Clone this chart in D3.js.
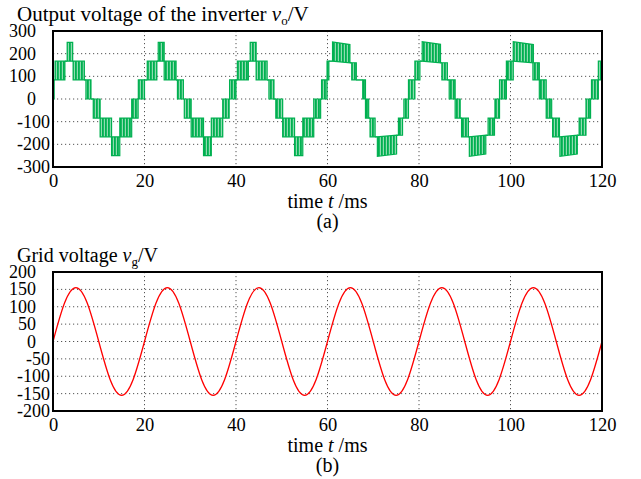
<!DOCTYPE html>
<html>
<head>
<meta charset="utf-8">
<script src="https://cdn.jsdelivr.net/npm/d3@7"></script>
<style>
  body { margin: 0; background: #fff; }
  text { font-family: "Liberation Serif", "Times New Roman", serif; fill: #000; }
</style>
</head>
<body>
<script>
// axis ticks
var timeTicks = [0, 20, 40, 60, 80, 100, 120];
var voTicks = [-300, -200, -100, 0, 100, 200, 300];
var vgTicks = [-200, -150, -100, -50, 0, 50, 100, 150, 200];

// grid voltage, read every 2.5 ms
var vgTime = [0, 2.5, 5, 7.5, 10, 12.5, 15, 17.5, 20, 22.5, 25, 27.5, 30, 32.5, 35, 37.5,
  40, 42.5, 45, 47.5, 50, 52.5, 55, 57.5, 60, 62.5, 65, 67.5, 70, 72.5, 75, 77.5,
  80, 82.5, 85, 87.5, 90, 92.5, 95, 97.5, 100, 102.5, 105, 107.5, 110, 112.5, 115, 117.5, 120];
var vgValues = [0, 110, 155, 110, 0, -110, -155, -110, 0, 110, 155, 110, 0, -110, -155, -110,
  0, 110, 155, 110, 0, -110, -155, -110, 0, 110, 155, 110, 0, -110, -155, -110,
  0, 110, 155, 110, 0, -110, -155, -110, 0, 110, 155, 110, 0, -110, -155, -110, 0];

// inverter output: PWM blocks [start ms, end ms, low V, high V, low V at end, high V at end]
var cycle1 = [
  [0, 0.25, 0, 84], [0.45, 2.6, 84, 167], [3.1, 4.3, 167, 250], [4.4, 6.85, 84, 167],
  [7.2, 8.3, 0, 84], [8.8, 10.3, -84, 0], [10.3, 12.8, -167, -84], [12.8, 14.6, -250, -167],
  [14.6, 17.2, -167, -84], [17.2, 18.6, -84, 0], [18.65, 20.0, 0, 84]
];
var cycle2 = [
  [20.6, 22.7, 84, 167], [23.0, 24.3, 167, 250], [24.3, 26.9, 84, 167], [27.2, 28.5, 0, 84],
  [28.7, 30.2, -84, 0], [30.2, 32.9, -167, -84], [32.9, 34.6, -250, -167], [34.6, 37.1, -167, -84],
  [37.1, 38.5, -84, 0], [38.6, 40.0, 0, 84]
];
var cycle3 = [
  [40.3, 42.7, 84, 167], [43.1, 44.4, 167, 250], [44.4, 46.8, 84, 167], [47.2, 48.3, 0, 84],
  [48.7, 50.2, -84, 0], [50.2, 52.8, -167, -84], [52.8, 54.6, -250, -167], [54.6, 57.0, -167, -84],
  [57.0, 58.5, -84, 0], [58.7, 59.9, 0, 84]
];
var cycle4 = [
  [59.9, 60.3, 84, 167], [61.1, 64.9, 167, 252, 160, 240], [65.3, 66.3, 84, 160], [67.7, 68.3, 0, 84],
  [68.3, 69.0, -84, 0], [69.3, 70.4, -167, -84], [70.9, 75.1, -253, -167, -243, -160],
  [75.5, 76.4, -160, -84], [76.7, 77.7, -84, 0], [77.7, 79.1, 0, 84]
];
var cycle5 = [
  [79.1, 80.2, 84, 167], [80.7, 84.7, 167, 253, 160, 241], [85.0, 86.2, 84, 160], [86.6, 87.9, 0, 84],
  [87.9, 89.0, -84, 0], [89.3, 90.8, -167, -84], [91.0, 94.6, -253, -167, -243, -160],
  [95.1, 96.5, -160, -84], [96.6, 97.6, -84, 0], [97.6, 99.1, 0, 84]
];
var cycle6 = [
  [99.1, 100.6, 84, 167], [100.6, 105.0, 167, 253, 160, 240], [104.9, 106.3, 84, 160], [106.3, 107.8, 0, 84],
  [107.8, 109.0, -84, 0], [109.2, 110.7, -167, -84], [110.8, 114.6, -253, -167, -243, -160],
  [115.0, 116.5, -160, -84], [116.5, 117.5, -84, 0], [117.7, 119.2, 0, 84], [119.2, 120, 84, 167]
];

var W = 641, H = 479;
var left = 53, right = 602;

var svg = d3.select("body").append("svg")
  .attr("width", W)
  .attr("height", H);

var defs = svg.append("defs");
var pat = defs.append("pattern")
  .attr("id", "pwm")
  .attr("patternUnits", "userSpaceOnUse")
  .attr("width", 3)
  .attr("height", 10);
pat.append("rect").attr("width", 3).attr("height", 10).attr("fill", "#8fdcb0");
pat.append("rect").attr("width", 1.8).attr("height", 10).attr("fill", "#00b050");

var x = d3.scaleLinear().domain([0, 120]).range([left, right]);

function panel(top, bottom, yDomain, yTicks) {
  var y = d3.scaleLinear().domain(yDomain).range([bottom, top]);
  var g = svg.append("g");

  // dotted grid
  g.selectAll(".vgrid").data(timeTicks.slice(1, -1)).enter().append("line")
    .attr("x1", function(d) { return x(d); })
    .attr("x2", function(d) { return x(d); })
    .attr("y1", top).attr("y2", bottom)
    .attr("stroke", "#555").attr("stroke-width", 1)
    .attr("stroke-dasharray", "1.2,2.8");
  g.selectAll(".hgrid").data(yTicks.slice(1, -1)).enter().append("line")
    .attr("x1", left).attr("x2", right)
    .attr("y1", function(d) { return y(d); })
    .attr("y2", function(d) { return y(d); })
    .attr("stroke", "#555").attr("stroke-width", 1)
    .attr("stroke-dasharray", "1.2,2.8");

  // x tick labels
  var xa = g.append("g")
    .attr("transform", "translate(0," + bottom + ")")
    .call(d3.axisBottom(x).tickValues(timeTicks).tickSize(0).tickPadding(7));
  xa.select(".domain").remove();
  xa.selectAll("text").attr("font-size", 18.5).attr("font-family", "Liberation Serif");

  // y tick labels
  g.selectAll(".ylab").data(yTicks).enter().append("text")
    .attr("x", function(d) { return d < 0 ? 50 : 36; })
    .attr("y", function(d) { return y(d); })
    .attr("dy", "0.34em")
    .attr("text-anchor", "end")
    .attr("font-size", 18)
    .text(function(d) { return d; });

  return { g: g, y: y, top: top, bottom: bottom };
}

function frame(p) {
  p.g.append("rect")
    .attr("x", left).attr("y", p.top)
    .attr("width", right - left).attr("height", p.bottom - p.top)
    .attr("fill", "none").attr("stroke", "#000").attr("stroke-width", 2);
}

// ---- (a) inverter output voltage
var pa = panel(31, 167, [-300, 300], voTicks);
var blocks = cycle1.concat(cycle2, cycle3, cycle4, cycle5, cycle6).map(function(b) {
  return { t0: b[0], t1: b[1], lo0: b[2], hi0: b[3],
           lo1: b.length > 4 ? b[4] : b[2], hi1: b.length > 5 ? b[5] : b[3] };
});

// flat parts between the switching blocks
var flats = [];
for (var i = 0; i < blocks.length - 1; i++) {
  var a = blocks[i], b = blocks[i + 1];
  var best = null;
  [a.lo1, a.hi1].forEach(function(va) {
    [b.lo0, b.hi0].forEach(function(vb) {
      if (best === null || Math.abs(va - vb) < Math.abs(best[0] - best[1])) best = [va, vb];
    });
  });
  flats.push({ ta: a.t1, va: best[0], tb: b.t0, vb: best[1] });
}

pa.g.selectAll(".flat").data(flats).enter().append("line")
  .attr("x1", function(d) { return x(d.ta); })
  .attr("y1", function(d) { return pa.y(d.va); })
  .attr("x2", function(d) { return x(d.tb); })
  .attr("y2", function(d) { return pa.y(d.vb); })
  .attr("stroke", "#00b050").attr("stroke-width", 1.5);

pa.g.selectAll(".blk").data(blocks).enter().append("polygon")
  .attr("points", function(d) {
    return [[x(d.t0), pa.y(d.lo0)], [x(d.t0), pa.y(d.hi0)],
            [x(d.t1), pa.y(d.hi1)], [x(d.t1), pa.y(d.lo1)]].join(" ");
  })
  .attr("fill", "url(#pwm)")
  .attr("stroke", "#00b050").attr("stroke-width", 1.2);
frame(pa);

// ---- (b) grid voltage
var pb = panel(272, 411, [-200, 200], vgTicks);
var vgLine = d3.line()
  .x(function(d, i) { return x(vgTime[i]); })
  .y(function(d) { return pb.y(d); })
  .curve(d3.curveNatural);
pb.g.append("path")
  .datum(vgValues)
  .attr("d", vgLine)
  .attr("fill", "none")
  .attr("stroke", "#ff0000")
  .attr("stroke-width", 1.3);
frame(pb);

// ---- titles and labels
function title(yBase, main, sub, size) {
  var t = svg.append("text").attr("x", 17).attr("y", yBase).attr("font-size", size);
  t.append("tspan").text(main);
  t.append("tspan").attr("font-style", "italic").text("v");
  t.append("tspan").attr("font-size", 13).attr("dy", 4).text(sub);
  t.append("tspan").attr("dy", -4).text("/V");
}
title(21, "Output voltage of the inverter ", "o", 21);
title(262, "Grid voltage ", "g", 20);

function xLabel(yBase, tag) {
  var t = svg.append("text").attr("x", (left + right) / 2).attr("y", yBase)
    .attr("text-anchor", "middle").attr("font-size", 20);
  t.append("tspan").text("time ");
  t.append("tspan").attr("font-style", "italic").text("t");
  t.append("tspan").text(" /ms");
  svg.append("text").attr("x", (left + right) / 2).attr("y", yBase + 20)
    .attr("text-anchor", "middle").attr("font-size", 20).text(tag);
}
xLabel(208, "(a)");
xLabel(452, "(b)");
</script>
</body>
</html>
